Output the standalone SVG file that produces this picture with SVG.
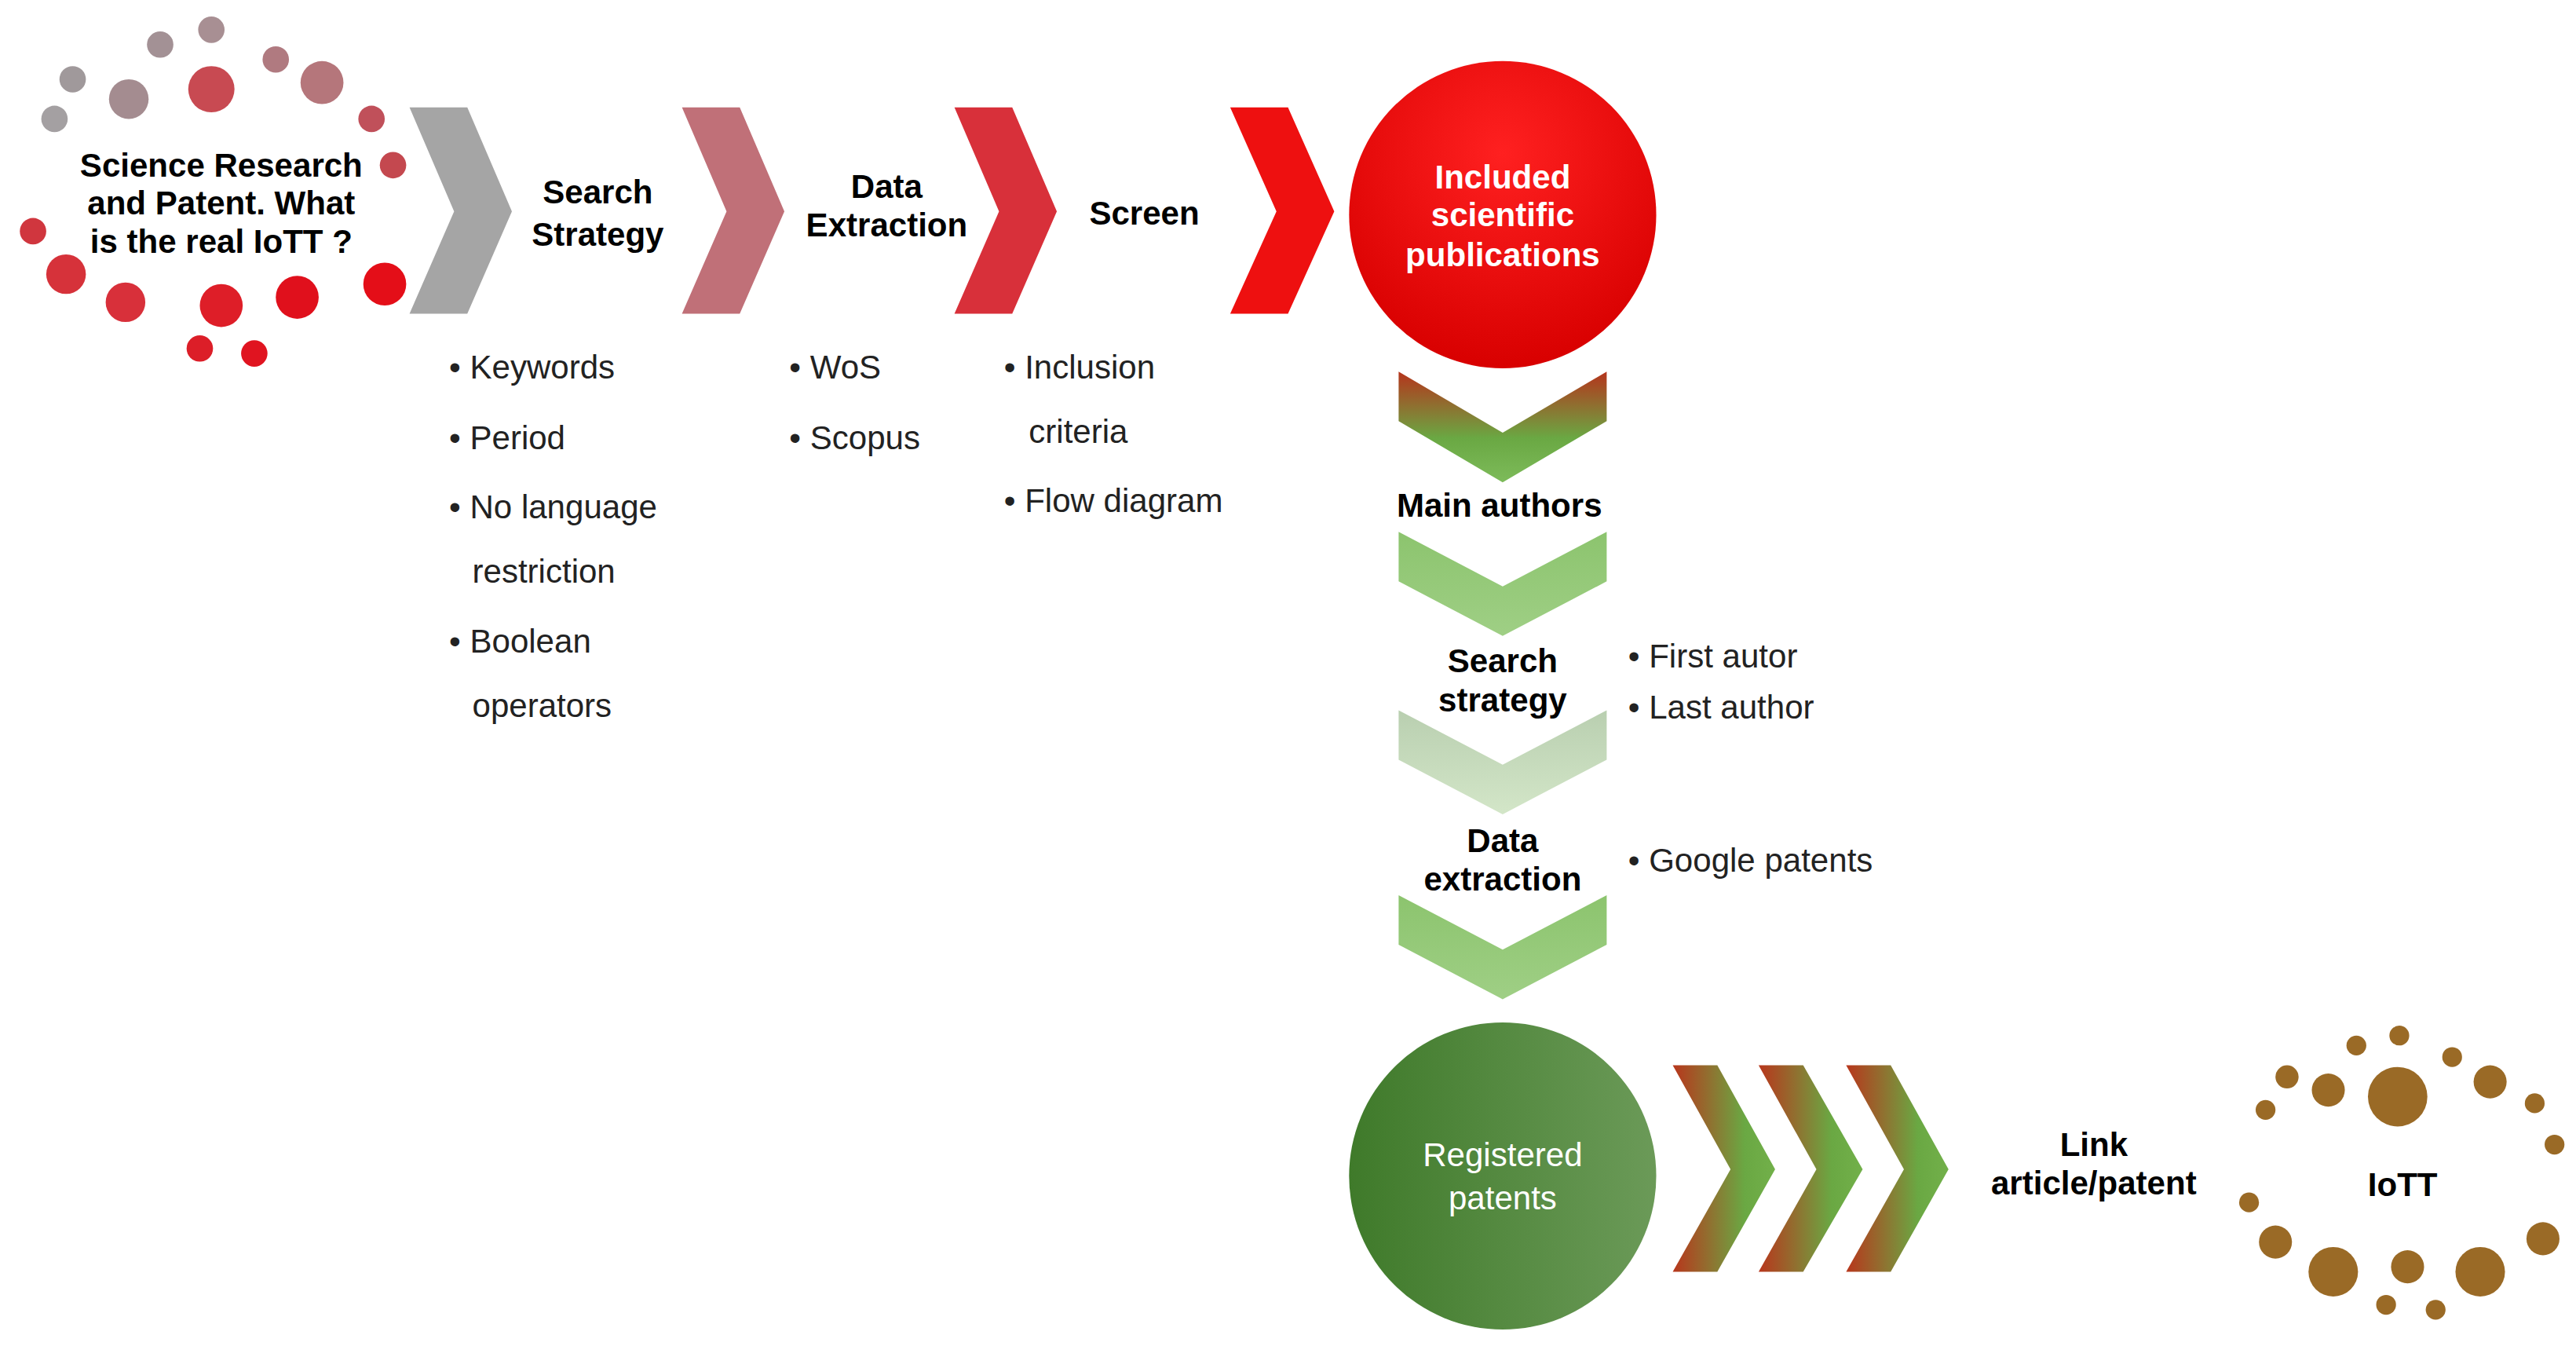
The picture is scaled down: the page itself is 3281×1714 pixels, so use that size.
<svg xmlns="http://www.w3.org/2000/svg" width="3281" height="1714" viewBox="0 0 3281 1714">
<defs>
<style>
.b{font-family:"Liberation Sans",Arial,sans-serif;font-weight:bold;font-size:20px;fill:#000;text-anchor:middle}
.t{font-family:"Liberation Sans",Arial,sans-serif;font-size:20px;fill:#222}
.w{font-family:"Liberation Sans",Arial,sans-serif;font-size:20px;fill:#fff;text-anchor:middle}
.br{fill:#9a6a26}
</style>
<linearGradient id="dg" x1="0" y1="0" x2="0" y2="1"><stop offset="0" stop-color="#b5341c"/><stop offset="0.6" stop-color="#6aa843"/><stop offset="1" stop-color="#7dbb5a"/></linearGradient>
<linearGradient id="lg" x1="0" y1="0" x2="0" y2="1"><stop offset="0" stop-color="#8cc46e"/><stop offset="1" stop-color="#9fcf85"/></linearGradient>
<linearGradient id="pg" x1="0" y1="0" x2="0" y2="1"><stop offset="0" stop-color="#b9cfb0"/><stop offset="1" stop-color="#d3e6c8"/></linearGradient>
<linearGradient id="hg" x1="0" y1="0" x2="1" y2="0"><stop offset="0" stop-color="#b8361c"/><stop offset="0.7" stop-color="#6aa843"/><stop offset="1" stop-color="#72b04a"/></linearGradient>
<radialGradient id="rc" cx="0.5" cy="0.3" r="0.7"><stop offset="0" stop-color="#ff2020"/><stop offset="1" stop-color="#d80000"/></radialGradient>
<linearGradient id="gc" x1="0" y1="0" x2="1" y2="0"><stop offset="0" stop-color="#3f7a2a"/><stop offset="1" stop-color="#6b9a58"/></linearGradient>
</defs>
<rect width="3281" height="1714" fill="#fff"/>
<g transform="scale(2.1032)">
<g id="start">
<circle cx="128" cy="18" r="8" fill="#a88f93"/><circle cx="97" cy="27" r="8" fill="#a39195"/><circle cx="167" cy="36" r="8" fill="#b07a80"/>
<circle cx="44" cy="48" r="8" fill="#a0999b"/><circle cx="78" cy="60" r="12" fill="#a48c90"/><circle cx="128" cy="54" r="14" fill="#c84a52"/>
<circle cx="195" cy="50" r="13" fill="#b5767b"/><circle cx="33" cy="72" r="8" fill="#a4a0a2"/><circle cx="225" cy="72" r="8" fill="#c0505a"/>
<circle cx="238" cy="100" r="8" fill="#c4484f"/><circle cx="20" cy="140" r="8" fill="#d0363e"/><circle cx="40" cy="166" r="12" fill="#d6323a"/>
<circle cx="76" cy="183" r="12" fill="#d8303a"/><circle cx="134" cy="185" r="13" fill="#de1e28"/><circle cx="180" cy="180" r="13" fill="#e0101c"/>
<circle cx="233" cy="172" r="13" fill="#e40e18"/><circle cx="121" cy="211" r="8" fill="#dc1e28"/><circle cx="154" cy="214" r="8" fill="#e01420"/>
<text class="b" x="134" y="107">Science Research</text><text class="b" x="134" y="130">and Patent. What</text><text class="b" x="134" y="153">is the real IoTT ?</text>
</g>
<g id="connectors">
<polygon points="248,65 283,65 310,128 283,190 248,190 275,128" fill="#a5a5a5"/>
<polygon points="413,65 448,65 475,128 448,190 413,190 440,128" fill="#c07078"/>
<polygon points="578,65 613,65 640,128 613,190 578,190 605,128" fill="#d8303a"/>
<polygon points="745,65 780,65 808,128 780,190 745,190 773,128" fill="#ee1010"/>
<polygon points="847,225 910,262 973,225 973,255 910,292 847,255" fill="url(#dg)"/>
<polygon points="847,322 910,355 973,322 973,352 910,385 847,352" fill="url(#lg)"/>
<polygon points="847,430 910,463 973,430 973,460 910,493 847,460" fill="url(#pg)"/>
<polygon points="847,542 910,575 973,542 973,572 910,605 847,572" fill="url(#lg)"/>
<polygon points="1013,645 1040,645 1075,708 1040,770 1013,770 1048,708" fill="url(#hg)"/>
<polygon points="1065,645 1092,645 1128,708 1092,770 1065,770 1100,708" fill="url(#hg)"/>
<polygon points="1118,645 1145,645 1180,708 1145,770 1118,770 1153,708" fill="url(#hg)"/>
</g>
<g id="search"><text class="b" x="362" y="123">Search</text><text class="b" x="362" y="149">Strategy</text>
<text class="t" x="272" y="229">•  Keywords</text><text class="t" x="272" y="272">•  Period</text><text class="t" x="272" y="314">•  No language</text>
<text class="t" x="286" y="353">restriction</text><text class="t" x="272" y="395">•  Boolean</text><text class="t" x="286" y="434">operators</text></g>
<g id="extraction"><text class="b" x="537" y="120">Data</text><text class="b" x="537" y="143">Extraction</text>
<text class="t" x="478" y="229">•  WoS</text><text class="t" x="478" y="272">•  Scopus</text></g>
<g id="screen"><text class="b" x="693" y="136">Screen</text>
<text class="t" x="608" y="229">•  Inclusion</text><text class="t" x="623" y="268">criteria</text><text class="t" x="608" y="310">•  Flow diagram</text></g>
<g id="included"><circle cx="910" cy="130" r="93" fill="url(#rc)"/>
<text class="w" font-weight="bold" x="910" y="114">Included</text><text class="w" font-weight="bold" x="910" y="137">scientific</text><text class="w" font-weight="bold" x="910" y="161">publications</text></g>
<g id="main"><text class="b" x="908" y="313">Main authors</text></g>
<g id="strategy2"><text class="b" x="910" y="407">Search</text><text class="b" x="910" y="431">strategy</text>
<text class="t" x="986" y="404">•    First autor</text><text class="t" x="986" y="435">•    Last author</text></g>
<g id="extraction2"><text class="b" x="910" y="516">Data</text><text class="b" x="910" y="539">extraction</text>
<text class="t" x="986" y="528">•    Google patents</text></g>
<g id="patents"><circle cx="910" cy="712" r="93" fill="url(#gc)"/>
<text class="w" x="910" y="706" fill="#e8f0e4">Registered</text><text class="w" x="910" y="732">patents</text></g>
<g id="link"><text class="b" x="1268" y="700">Link</text><text class="b" x="1268" y="723">article/patent</text></g>
<g id="iott">
<circle class="br" cx="1453" cy="627" r="6"/><circle class="br" cx="1427" cy="633" r="6"/><circle class="br" cx="1485" cy="640" r="6"/>
<circle class="br" cx="1385" cy="652" r="7"/><circle class="br" cx="1410" cy="660" r="10"/><circle class="br" cx="1452" cy="664" r="18"/>
<circle class="br" cx="1508" cy="655" r="10"/><circle class="br" cx="1372" cy="672" r="6"/><circle class="br" cx="1535" cy="668" r="6"/>
<circle class="br" cx="1547" cy="693" r="6"/><circle class="br" cx="1362" cy="728" r="6"/><circle class="br" cx="1378" cy="752" r="10"/>
<circle class="br" cx="1413" cy="770" r="15"/><circle class="br" cx="1458" cy="767" r="10"/><circle class="br" cx="1502" cy="770" r="15"/>
<circle class="br" cx="1540" cy="750" r="10"/><circle class="br" cx="1445" cy="790" r="6"/><circle class="br" cx="1475" cy="793" r="6"/>
<text class="b" x="1455" y="724" font-size="34">IoTT</text></g>
</g>
</svg>
